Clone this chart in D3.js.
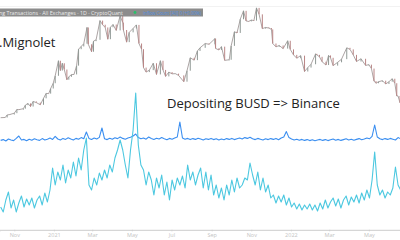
<!DOCTYPE html>
<html><head><meta charset="utf-8">
<script src="https://cdn.jsdelivr.net/npm/d3@7"></script>
<style>html,body{margin:0;padding:0;background:#fff;overflow:hidden}</style>
</head><body>
<svg id="c" width="400" height="240"></svg>
<script>
// BTC price (USD close)
const priceDates = ["2020-10-11","2020-10-18","2020-10-21","2020-10-25","2020-11-01","2020-11-05","2020-11-08","2020-11-15","2020-11-18","2020-11-22","2020-11-26","2020-11-30","2020-12-05","2020-12-11","2020-12-16","2020-12-20","2020-12-24","2020-12-27","2020-12-31","2021-01-03","2021-01-08","2021-01-11","2021-01-14","2021-01-17","2021-01-21","2021-01-24","2021-01-28","2021-02-01","2021-02-05","2021-02-08","2021-02-12","2021-02-16","2021-02-21","2021-02-23","2021-02-28","2021-03-03","2021-03-07","2021-03-13","2021-03-17","2021-03-21","2021-03-25","2021-03-29","2021-04-02","2021-04-07","2021-04-13","2021-04-17","2021-04-18","2021-04-23","2021-04-27","2021-05-03","2021-05-08","2021-05-12","2021-05-16","2021-05-19","2021-05-23","2021-05-28","2021-06-03","2021-06-08","2021-06-14","2021-06-18","2021-06-22","2021-06-27","2021-07-02","2021-07-07","2021-07-12","2021-07-20","2021-07-25","2021-07-30","2021-08-05","2021-08-10","2021-08-14","2021-08-22","2021-08-28","2021-09-06","2021-09-07","2021-09-12","2021-09-16","2021-09-21","2021-09-28","2021-10-01","2021-10-06","2021-10-10","2021-10-15","2021-10-20","2021-10-24","2021-10-28","2021-11-01","2021-11-05","2021-11-09","2021-11-13","2021-11-18","2021-11-23","2021-11-28","2021-12-02","2021-12-04","2021-12-09","2021-12-14","2021-12-20","2021-12-27","2021-12-31","2022-01-05","2022-01-10","2022-01-16","2022-01-22","2022-01-27","2022-02-01","2022-02-08","2022-02-10","2022-02-14","2022-02-18","2022-02-24","2022-02-28","2022-03-03","2022-03-07","2022-03-14","2022-03-20","2022-03-28","2022-04-02","2022-04-07","2022-04-12","2022-04-19","2022-04-26","2022-05-01","2022-05-05","2022-05-09","2022-05-12","2022-05-16","2022-05-22","2022-05-27","2022-06-01","2022-06-06","2022-06-10","2022-06-13","2022-06-15","2022-06-18"];
const priceValues = [11400,11500,12800,13000,13700,15600,15500,16000,17800,18700,17100,19700,19100,18000,21300,23800,23700,26300,29000,32800,40500,35500,39200,36000,30800,32300,33400,33500,38000,46400,47800,49200,57500,48900,45100,50500,51200,61000,58900,57500,51500,57600,59000,56000,63500,60000,56200,50000,55000,57000,58800,49300,46400,37000,34700,35700,39200,33500,40500,35800,32500,34700,33800,33900,33000,29800,35400,42000,40800,45500,47100,49300,48900,51800,46800,46000,47700,40700,41000,48100,55300,54700,61700,66000,60800,60600,61300,61000,67500,64200,56900,57500,57200,56500,49300,47600,48300,46700,50700,46300,43500,41800,43100,35000,37000,38700,44000,43500,42500,40000,38300,43200,42000,38000,39700,41300,47100,46300,43500,40100,41500,38100,38500,36500,30100,29000,29800,30300,28600,29800,31300,29000,22500,22500,19000];

// Flow series sampled every 4 days from this start date
const flowStart = "2020-10-11";
const flowStepDays = 4;
const busdDepositValues = [220,170,290,370,210,290,170,260,330,220,300,240,310,210,290,330,240,360,270,390,610,440,570,490,640,460,590,510,670,530,710,590,790,910,440,390,510,440,560,490,590,510,640,570,710,790,890,790,640,510,790,990,1360,840,640,590,440,570,490,340,510,410,540,340,470,290,490,390,510,440,530,410,640,490,570,440,540,610,410,570,390,540,340,440,310,410,290,440,340,490,370,510,410,440,510,490,660,540,440,570,390,510,370,440,310,340,260,330,270,340,240,310,220,260,200,250,190,240,200,250,190,240,180,260,200,290,210,270,310,230,300,210,290,330,240,320,270,340,260,360,290,390,310,490,770,440,340,390,310,370,340,410,620,440,390];
const allFlowValues = [28,32,25,35,30,27,38,50,30,33,26,34,29,36,31,28,37,30,34,40,33,48,35,30,38,33,41,35,30,38,34,42,36,70,38,33,40,35,43,90,36,32,39,34,41,37,45,38,34,40,44,50,60,42,36,40,34,45,38,33,39,35,42,36,31,38,34,40,45,120,40,34,38,32,37,33,39,35,30,36,33,38,32,36,30,35,31,37,33,38,32,36,40,35,42,38,44,36,32,38,34,30,36,32,37,33,38,31,40,45,72,42,35,30,34,29,33,28,32,27,31,26,30,33,28,32,27,31,35,29,33,28,32,36,30,34,29,33,37,31,35,40,36,48,105,45,36,32,37,33,38,34,30,42,36];

const headerText = "ng Transactions · All Exchanges · 1D · CryptoQuant";
const headerValue = "Inflow Count [All] 0 (+0.00%)";
const authorText = ".Mignolet";
const noteText = "Depositing BUSD => Binance";

const svg = d3.select("#c");
const W = 400, H = 240;
const parse = d3.utcParse("%Y-%m-%d");

const x = d3.scaleUtc().domain([parse("2020-10-10"), parse("2022-06-18")]).range([0, W]);
const yPrice = d3.scaleLinear().domain([0, 70000]).range([140, 3]);
const yCyan = d3.scaleLinear().domain([0, 1400]).range([229, 89]);
const yBlue = d3.scaleLinear().domain([0, 200]).range([146, 106]);

const start = parse(flowStart);
const flowDate = i => d3.utcDay.offset(start, i * flowStepDays);

// faint top rule
svg.append("line").attr("x1",0).attr("x2",W).attr("y1",6.5).attr("y2",6.5)
  .attr("stroke","#f2f2f2").attr("stroke-width",1);

// axis
const axis = d3.axisBottom(x)
  .ticks(d3.utcMonth.every(2))
  .tickFormat(d => d.getUTCMonth() === 0 ? d3.utcFormat("%Y")(d) : d3.utcFormat("%b")(d))
  .tickSize(1.5).tickPadding(2);
const gA = svg.append("g").attr("transform","translate(0,229.8)").call(axis);
gA.select(".domain").attr("stroke","#d6d6d6").attr("stroke-width",1.2);
gA.selectAll(".tick line").attr("stroke","#cfcfcf");
gA.selectAll(".tick text").attr("fill","#c4c4c4").attr("font-size","5.5px").attr("font-family","Open Sans, sans-serif");

// blue all-flow line
const blueLine = d3.line().x((d,i)=>x(flowDate(i))).y(d=>yBlue(d));
svg.append("path").datum(allFlowValues).attr("d", blueLine)
  .attr("fill","none").attr("stroke","#3a8ef0").attr("stroke-width",1.1).attr("stroke-linejoin","round");

// cyan BUSD deposits
const cyanLine = d3.line().x((d,i)=>x(flowDate(i))).y(d=>yCyan(d));
svg.append("path").datum(busdDepositValues).attr("d", cyanLine)
  .attr("fill","none").attr("stroke","#4cc8e0").attr("stroke-width",1.1).attr("stroke-linejoin","round");

// price line
const priceData = priceDates.map((d,i)=>({d:parse(d), v:priceValues[i]}));
const priceLine = d3.line().x(p=>x(p.d)).y(p=>yPrice(p.v));
svg.append("path").datum(priceData).attr("d", priceLine)
  .attr("fill","none").attr("stroke","#a39a9a").attr("stroke-width",0.9).attr("stroke-linejoin","round");
// candle-like bodies between consecutive closes
svg.append("g").selectAll("line").data(priceData.slice(1)).join("line")
  .attr("x1",(p)=>x(p.d)).attr("x2",(p)=>x(p.d))
  .attr("y1",(p,i)=>yPrice(priceData[i].v)).attr("y2",p=>yPrice(p.v))
  .attr("stroke",(p,i)=> p.v >= priceData[i].v ? "#8f9894" : "#b98585")
  .attr("stroke-width",1);

// header bar
svg.append("rect").attr("x",0).attr("y",8.5).attr("width",203).attr("height",8).attr("fill","#8c8c8c");
svg.append("text").attr("x",-1).attr("y",14.5).text(headerText)
  .attr("font-family","Open Sans, sans-serif").attr("font-size","5.6px").attr("fill","#ececec")
  .attr("textLength",124).attr("lengthAdjust","spacingAndGlyphs");
svg.append("circle").attr("cx",135).attr("cy",12.5).attr("r",1.4).attr("fill","#27c26a");
svg.append("text").attr("x",143).attr("y",14.5).text(headerValue)
  .attr("font-family","Open Sans, sans-serif").attr("font-size","5.6px").attr("fill","#4d8fe0")
  .attr("textLength",58).attr("lengthAdjust","spacingAndGlyphs");

// annotations
svg.append("text").attr("x",-1).attr("y",47).text(authorText)
  .attr("font-family","Open Sans, sans-serif").attr("font-size","13px").attr("fill","#222");
svg.append("text").attr("x",167).attr("y",108).text(noteText)
  .attr("font-family","Open Sans, sans-serif").attr("font-size","13px").attr("fill","#222");
</script>
</body></html>
